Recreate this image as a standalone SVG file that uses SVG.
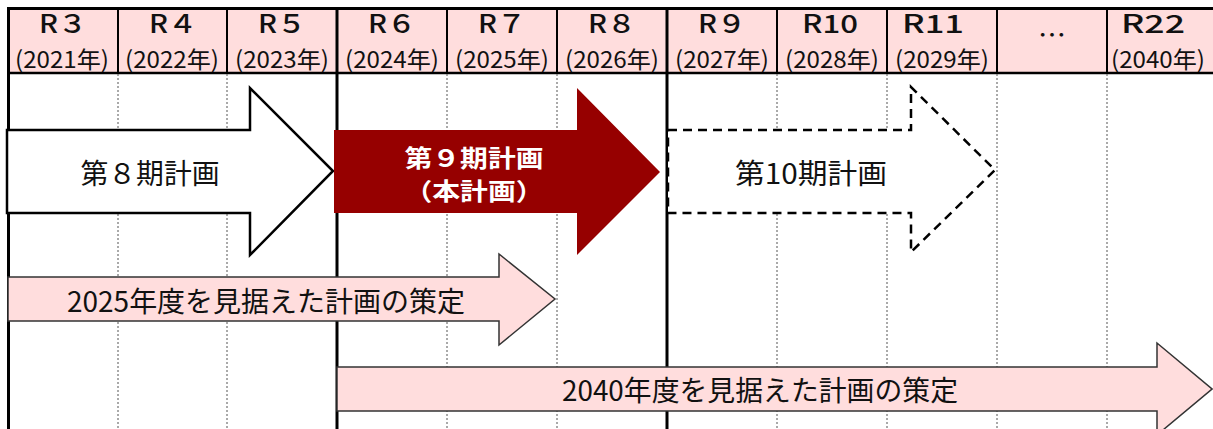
<svg xmlns="http://www.w3.org/2000/svg" width="1213" height="429" viewBox="0 0 1213 429">
<style>
.hd{font-family:"Noto Sans CJK JP","Noto Sans",sans-serif;fill:#111;text-anchor:middle}
.r{font-size:25px;font-weight:500}
.y{font-size:23px}
.dot{stroke:#555;stroke-width:1;stroke-dasharray:2 2;fill:none}
.solid{stroke:#000;fill:none}
.lbl{font-family:"Noto Sans CJK JP","Noto Sans",sans-serif;text-anchor:middle;fill:#111}
</style>
<rect x="0" y="0" width="1213" height="429" fill="#fff"/>
<g id="header">
<rect x="8" y="8" width="1210" height="65" fill="#ffdddd"/>
<line class="solid" x1="7" y1="8.5" x2="1213" y2="8.5" stroke-width="3"/>
<line class="solid" x1="7" y1="73" x2="1213" y2="73" stroke-width="2.5"/>
<line class="solid" x1="8.5" y1="7" x2="8.5" y2="74" stroke-width="3"/>
<g class="solid" stroke-width="2">
<line x1="118" y1="8" x2="118" y2="73"/><line x1="227" y1="8" x2="227" y2="73"/>
<line x1="447" y1="8" x2="447" y2="73"/><line x1="557" y1="8" x2="557" y2="73"/>
<line x1="777" y1="8" x2="777" y2="73"/><line x1="887" y1="8" x2="887" y2="73"/>
<line x1="997" y1="8" x2="997" y2="73"/><line x1="1107" y1="8" x2="1107" y2="73"/>
</g>
<g class="solid" stroke-width="3"><line x1="337" y1="8" x2="337" y2="73"/><line x1="667" y1="8" x2="667" y2="73"/></g>
<text class="hd r" x="63" y="33" textLength="48" lengthAdjust="spacingAndGlyphs">R３</text>
<text class="hd r" x="173" y="33" textLength="48" lengthAdjust="spacingAndGlyphs">R４</text>
<text class="hd r" x="282" y="33" textLength="48" lengthAdjust="spacingAndGlyphs">R５</text>
<text class="hd r" x="392" y="33" textLength="48" lengthAdjust="spacingAndGlyphs">R６</text>
<text class="hd r" x="502" y="33" textLength="48" lengthAdjust="spacingAndGlyphs">R７</text>
<text class="hd r" x="612" y="33" textLength="48" lengthAdjust="spacingAndGlyphs">R８</text>
<text class="hd r" x="722" y="33" textLength="48" lengthAdjust="spacingAndGlyphs">R９</text>
<text class="hd r" x="830" y="33" textLength="56" lengthAdjust="spacingAndGlyphs">R10</text>
<text class="hd r" x="933" y="33" textLength="62" lengthAdjust="spacingAndGlyphs">R11</text>
<text class="hd r" x="1153" y="33" textLength="64" lengthAdjust="spacingAndGlyphs">R22</text>
<text class="hd" x="1052" y="46" font-size="28">…</text>
<text class="hd y" x="62" y="68" textLength="94" lengthAdjust="spacingAndGlyphs">(2021年)</text>
<text class="hd y" x="172" y="68" textLength="94" lengthAdjust="spacingAndGlyphs">(2022年)</text>
<text class="hd y" x="282" y="68" textLength="94" lengthAdjust="spacingAndGlyphs">(2023年)</text>
<text class="hd y" x="392" y="68" textLength="94" lengthAdjust="spacingAndGlyphs">(2024年)</text>
<text class="hd y" x="502" y="68" textLength="94" lengthAdjust="spacingAndGlyphs">(2025年)</text>
<text class="hd y" x="612" y="68" textLength="94" lengthAdjust="spacingAndGlyphs">(2026年)</text>
<text class="hd y" x="722" y="68" textLength="94" lengthAdjust="spacingAndGlyphs">(2027年)</text>
<text class="hd y" x="832" y="68" textLength="94" lengthAdjust="spacingAndGlyphs">(2028年)</text>
<text class="hd y" x="942" y="68" textLength="94" lengthAdjust="spacingAndGlyphs">(2029年)</text>
<text class="hd y" x="1158" y="68" textLength="94" lengthAdjust="spacingAndGlyphs">(2040年)</text>
</g>
<g id="grid">
<line class="solid" x1="8.5" y1="73" x2="8.5" y2="429" stroke-width="3"/>
<line class="solid" x1="337" y1="73" x2="337" y2="429" stroke-width="3"/>
<line class="solid" x1="667" y1="73" x2="667" y2="429" stroke-width="3"/>
<g class="dot">
<line x1="118" y1="74" x2="118" y2="429"/><line x1="227" y1="74" x2="227" y2="429"/>
<line x1="447" y1="74" x2="447" y2="429"/><line x1="557" y1="74" x2="557" y2="429"/>
<line x1="777" y1="74" x2="777" y2="429"/><line x1="887" y1="74" x2="887" y2="429"/>
<line x1="997" y1="74" x2="997" y2="429"/><line x1="1107" y1="74" x2="1107" y2="429"/>
</g>
</g>
<g id="connectors">
<g id="plan8">
<polygon points="7,130 250,130 250,88 333,171 250,255 250,213 7,213" fill="#fff" stroke="#000" stroke-width="2.5"/>
<text class="lbl" x="150" y="184" font-size="28" textLength="139" lengthAdjust="spacingAndGlyphs">第８期計画</text>
</g>
<g id="plan9">
<polygon points="334,130 577,130 577,88 660,172 577,255 577,213 334,213" fill="#960000"/>
<text class="lbl" x="474" y="167" font-size="24" font-weight="bold" style="fill:#fff" textLength="139" lengthAdjust="spacingAndGlyphs">第９期計画</text>
<text class="lbl" x="474" y="200" font-size="24" font-weight="bold" style="fill:#fff" textLength="139" lengthAdjust="spacingAndGlyphs">（本計画）</text>
</g>
<g id="plan10">
<polygon points="668,130 911,130 911,87 995,170 911,252 911,213 668,213" fill="#fff" stroke="#000" stroke-width="2.5" stroke-dasharray="9 6"/>
<text class="lbl" x="811" y="184" font-size="28" textLength="152" lengthAdjust="spacingAndGlyphs">第10期計画</text>
</g>
<g id="goal2025">
<polygon points="8,277 499,277 499,254 555,299 499,345 499,321 8,321" fill="#ffdddd" stroke="#333" stroke-width="1.5"/>
<text class="lbl" x="266" y="312" font-size="28" textLength="398" lengthAdjust="spacingAndGlyphs">2025年度を見据えた計画の策定</text>
</g>
<g id="goal2040">
<polygon points="337,367 1157,367 1157,343 1212,389 1157,435 1157,411 337,411" fill="#ffdddd" stroke="#333" stroke-width="1.5"/>
<text class="lbl" x="760" y="401" font-size="28" textLength="396" lengthAdjust="spacingAndGlyphs">2040年度を見据えた計画の策定</text>
</g>
</g>
</svg>
